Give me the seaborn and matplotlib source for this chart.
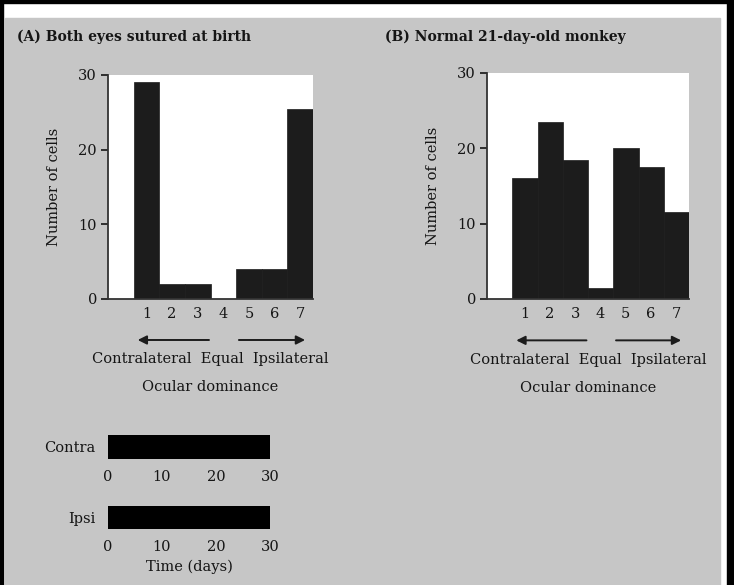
import matplotlib
matplotlib.use('Agg')
import pandas as pd
import matplotlib.pyplot as plt
from matplotlib.patches import Rectangle
import seaborn as sns

# ocular dominance groups (1 = contralateral only ... 7 = ipsilateral only)
od_groups = ['1', '2', '3', '4', '5', '6', '7']
sutured_cells = [29, 2, 2, 0, 4, 4, 25.5]        # (A) both eyes sutured at birth
normal_cells = [16, 23.5, 18.5, 1.5, 20, 17.5, 11.5]  # (B) normal 21-day-old monkey
y_ticks = [0, 10, 20, 30]

# closure period for each eye, panel A
eye_rows = ['Contra', 'Ipsi']
closed_days = [30, 30]
day_ticks = [0, 10, 20, 30]

sutured_df = pd.DataFrame({'group': od_groups, 'cells': sutured_cells})
normal_df = pd.DataFrame({'group': od_groups, 'cells': normal_cells})

sns.set_style('ticks')
plt.rcParams['font.family'] = ['DejaVu Serif']
plt.rcParams['font.size'] = 10
for key in ['text.color', 'axes.labelcolor', 'xtick.color', 'ytick.color']:
    plt.rcParams[key] = '#151515'

page = '#c6c6c6'
ink = '#1c1c1c'
W, H = 734, 585

fig = plt.figure(figsize=(W / 100, H / 100), dpi=100, facecolor='white')

def box(x0, y0, x1, y1):
    # pixel box (top-left origin) -> figure fraction rect
    return [x0 / W, 1 - y1 / H, (x1 - x0) / W, (y1 - y0) / H]

# scanned page background + black frame
fig.patches.append(Rectangle((5 / W, 0), 715 / W, 1 - 18 / H, transform=fig.transFigure,
                             color=page, zorder=-10))
for r in [box(0, 0, 3, H), box(0, 0, W, 3), box(727, 0, W, H)]:
    fig.patches.append(Rectangle((r[0], r[1]), r[2], r[3], transform=fig.transFigure,
                                 color='black', zorder=-9))


def histogram(ax, df, title, title_x):
    sns.barplot(data=df, x='group', y='cells', ax=ax, color=ink, saturation=1,
                width=1.0, edgecolor=ink, linewidth=0.5)
    ax.set_facecolor('white')
    ax.set_xlim(-1.5, 6.5)
    ax.set_ylim(0, 30)
    ax.set_yticks(y_ticks)
    sns.despine(ax=ax)
    for s in ['left', 'bottom']:
        ax.spines[s].set_linewidth(1.3)
        ax.spines[s].set_color('#333333')
    ax.tick_params(axis='y', length=5, width=1.2, pad=3, labelsize=10.5)
    ax.tick_params(axis='x', length=0, pad=6, labelsize=10.5)
    ax.set_xlabel('')
    ax.set_ylabel('Number of cells', fontsize=10.5, labelpad=12)

    tr = ax.get_xaxis_transform()
    arrow = dict(arrowstyle='-|>', color=ink, lw=1.4, mutation_scale=13)
    ax.annotate('', xy=(-0.45, -0.183), xytext=(2.55, -0.183), xycoords=tr, arrowprops=arrow)
    ax.annotate('', xy=(6.3, -0.183), xytext=(3.5, -0.183), xycoords=tr, arrowprops=arrow)
    ax.text(0.5, -0.27, 'Contralateral  Equal  Ipsilateral', transform=ax.transAxes,
            ha='center', va='center', fontsize=10.5)
    ax.text(0.5, -0.393, 'Ocular dominance', transform=ax.transAxes,
            ha='center', va='center', fontsize=10.5)
    fig.text(title_x / W, 1 - 37 / H, title, ha='left', va='center',
             fontsize=10, fontweight='bold')


ax_a = fig.add_axes(box(108, 75, 313, 299))
histogram(ax_a, sutured_df, '(A) Both eyes sutured at birth', 17)

ax_b = fig.add_axes(box(487, 73, 689, 299))
histogram(ax_b, normal_df, '(B) Normal 21-day-old monkey', 385)

# eye closure timeline bars
for i, (top, bottom) in enumerate([(435, 459), (506, 529)]):
    ax = fig.add_axes(box(108, top, 270, bottom))
    sns.barplot(x=[closed_days[i]], y=[eye_rows[i]], orient='h', ax=ax,
                color='black', saturation=1, width=1.0, linewidth=0)
    ax.set_xlim(0, 30)
    ax.set_ylim(0.5, -0.5)
    ax.set_facecolor('none')
    sns.despine(ax=ax, left=True, bottom=True)
    ax.set_xticks(day_ticks)
    ax.tick_params(axis='x', length=0, pad=8, labelsize=10.5)
    ax.tick_params(axis='y', length=0, pad=9, labelsize=10.5)
    ax.set_ylabel('')
    if i == 1:
        ax.set_xlabel('Time (days)', fontsize=10.5, labelpad=4)

fig.savefig('out.png', dpi=100, facecolor='white')
